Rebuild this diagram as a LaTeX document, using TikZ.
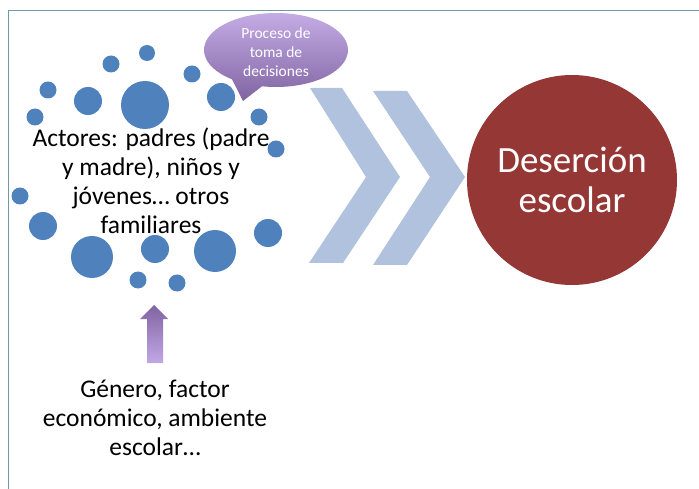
\documentclass[tikz,border=0pt]{standalone}
\usepackage{fontspec}
\setmainfont{Carlito}
\definecolor{dotblue}{HTML}{4F81BD}
\definecolor{chev}{HTML}{B0C2DE}
\definecolor{darkred}{HTML}{953735}
\definecolor{purpdark}{HTML}{8064A2}
\definecolor{purplight}{HTML}{C2A7E6}
\definecolor{framecol}{HTML}{6F99A6}
\tikzset{
  dot/.style={fill=dotblue, draw=none, circle, inner sep=0pt, minimum size=#1},
  chevron/.style={fill=chev, draw=none},
  bodytext/.style={align=center, font=\fontsize{25.5}{29}\selectfont, text=black},
}
\begin{document}
\begin{tikzpicture}[x=1pt,y=-1pt]
\useasboundingbox (0,0) rectangle (699,489);
\fill[white] (0,0) rectangle (699,489);
% frame
\draw[framecol, line width=1pt] (8,489) -- (8,11) -- (699,11);
% dots
\node[dot=16pt] (d1) at (147,53) {};
\node[dot=17pt] (d2) at (111,64) {};
\node[dot=17pt] (d3) at (192,74) {};
\node[dot=17pt] (d4) at (48,90) {};
\node[dot=28pt] (d5) at (88,101) {};
\node[dot=48pt] (d6) at (145,105) {};
\node[dot=28pt] (d7) at (221,97) {};
\node[dot=17pt] (d8) at (35,117) {};
\node[dot=17pt] (d9) at (259,117) {};
\node[dot=17pt] (d10) at (276,149) {};
\node[dot=17pt] (d11) at (20,196) {};
\node[dot=28pt] (d12) at (43,226) {};
\node[dot=28pt] (d13) at (268,233) {};
\node[dot=42pt] (d14) at (92,257) {};
\node[dot=28pt] (d15) at (155,249) {};
\node[dot=42pt] (d16) at (215,251) {};
\node[dot=17pt] (d17) at (138,280) {};
\node[dot=17pt] (d18) at (177,283) {};
% actors text
\node[bodytext] (actores) at (151,181) {Actores: padres (padre\\y madre), niños y\\jóvenes… otros\\familiares};
% speech bubble
\shade[top color=purplight!90!white, bottom color=purpdark]
  ({276+72*cos(127.7)},{50+37*sin(127.7)})
  arc[start angle=127.7, end angle=461.2, x radius=72, y radius=37]
  -- (243,101) -- cycle;
\node[align=center, text=white, font=\fontsize{15.5}{19}\selectfont] (bubble) at (276,52) {Proceso de\\toma de\\decisiones};
% chevrons
\fill[chevron] (310,88) -- (342,88) -- (400,177) -- (343,263) -- (309,263) -- (366,177) -- cycle;
\fill[chevron] (373,91) -- (407,91) -- (465,177) -- (407,265) -- (373,265) -- (430,177) -- cycle;
% result circle
\node[circle, fill=darkred, draw=none, minimum size=210pt, inner sep=0pt] (res) at (572,180) {};
\node[align=center, text=white, font=\fontsize{37}{40}\selectfont] (restext) at (572,180) {Deserción\\escolar};
% up arrow
\shade[top color=purpdark, bottom color=purplight]
  (154,305) -- (168,319) -- (163,319) -- (163,363) -- (147,363) -- (147,319) -- (140,319) -- cycle;
\coordinate (arrowtip) at (154,305);
% factors text
\node[bodytext] (factores) at (155,418) {Género, factor\\económico, ambiente\\escolar…};
\end{tikzpicture}
\end{document}
